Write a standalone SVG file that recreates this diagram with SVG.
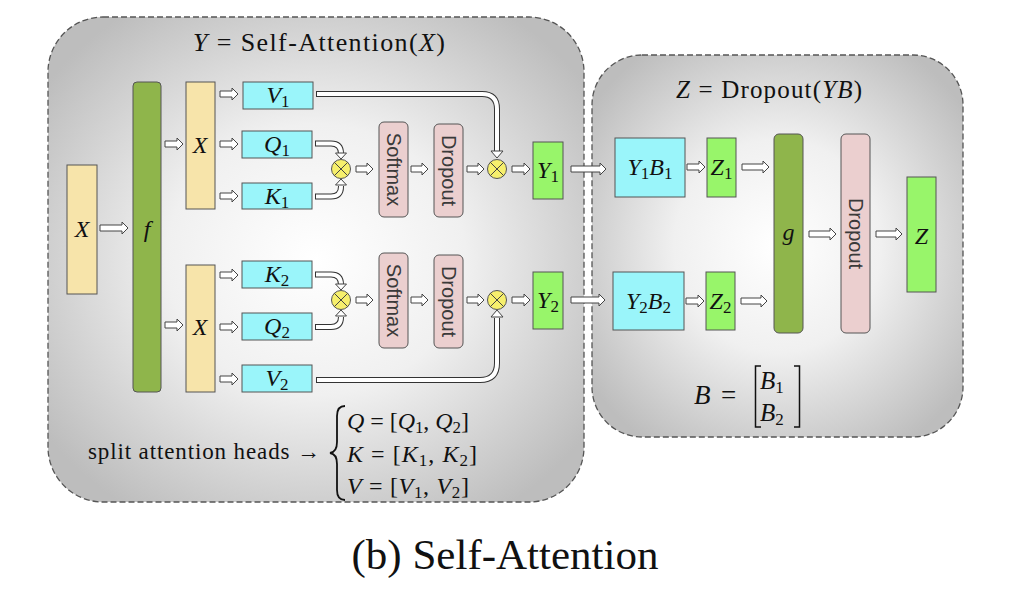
<svg xmlns="http://www.w3.org/2000/svg" width="1028" height="598" viewBox="0 0 1028 598">
  <defs>
    <radialGradient id="panelFill" cx="50%" cy="50%" r="62%">
      <stop offset="0" stop-color="#ffffff"/>
      <stop offset="0.45" stop-color="#f0f0f0"/>
      <stop offset="1" stop-color="#bdbdbd"/>
    </radialGradient>
    <style>
      .panel { fill: url(#panelFill); stroke: #555; stroke-width: 1.3; stroke-dasharray: 6 3; }
      .box { stroke: #555; stroke-width: 1; }
      .inp { fill: #f7e4aa; }
      .fn { fill: #8fb54b; }
      .qkv { fill: #9af5fa; }
      .out { fill: #98f56a; }
      .op { fill: #ebcfcf; }
      .arr { fill: #fff; stroke: #444; stroke-width: 1; stroke-linejoin: miter; }
      .co { fill: none; stroke: #333; stroke-width: 6; }
      .ci { fill: none; stroke: #fff; stroke-width: 4; }
      .mul { fill: #f6ef6c; stroke: #555; stroke-width: 1; }
      .mulx { stroke: #444; stroke-width: 1; }
      .t { font-family: "Liberation Serif", serif; fill: #111; }
      .i { font-style: italic; }
      .lbl { font-size: 24px; text-anchor: middle; }
      .sub { font-size: 17px; font-style: normal; }
      .rot { font-family: "Liberation Sans", Arial, sans-serif; font-size: 20px; fill: #3a3a3a; text-anchor: middle; }
      .ln { fill: none; stroke: #111; }
    </style>
  </defs>

  <!-- panels -->
  <g id="panel-attention">
    <rect class="panel" x="48" y="17" width="536" height="485" rx="55"/>
    <text class="t" x="319" y="51" font-size="26" text-anchor="middle" textLength="252" lengthAdjust="spacing"><tspan class="i">Y</tspan> = Self-Attention(<tspan class="i">X</tspan>)</text>
  </g>
  <g id="panel-dropout">
    <rect class="panel" x="592" y="55" width="371" height="382" rx="50"/>
    <text class="t" x="769" y="98" font-size="25" text-anchor="middle" textLength="186" lengthAdjust="spacing"><tspan class="i">Z</tspan> = Dropout(<tspan class="i">YB</tspan>)</text>
  </g>

  <!-- connectors -->
  <g id="connectors">
    <!-- block arrows -->
    <path class="arr" d="M100,225 H122 V222 L128,228 L122,234 V231 H100 Z"/>
    <path class="arr" d="M165,141 H177 V138 L183,144 L177,150 V147 H165 Z"/>
    <path class="arr" d="M165,322 H177 V319 L183,325 L177,331 V328 H165 Z"/>
    <path class="arr" d="M220,91 H232 V88 L238,94 L232,100 V97 H220 Z"/>
    <path class="arr" d="M220,141 H232 V138 L238,144 L232,150 V147 H220 Z"/>
    <path class="arr" d="M220,193 H232 V190 L238,196 L232,202 V199 H220 Z"/>
    <path class="arr" d="M220,272 H232 V269 L238,275 L232,281 V278 H220 Z"/>
    <path class="arr" d="M220,324 H232 V321 L238,327 L232,333 V330 H220 Z"/>
    <path class="arr" d="M220,376 H232 V373 L238,379 L232,385 V382 H220 Z"/>
    <path class="arr" d="M356,166 H367 V163 L373,169 L367,175 V172 H356 Z"/>
    <path class="arr" d="M411,166 H422 V163 L428,169 L422,175 V172 H411 Z"/>
    <path class="arr" d="M467,166 H478 V163 L484,169 L478,175 V172 H467 Z"/>
    <path class="arr" d="M512,166 H524 V163 L530,169 L524,175 V172 H512 Z"/>
    <path class="arr" d="M356,297 H367 V294 L373,300 L367,306 V303 H356 Z"/>
    <path class="arr" d="M411,297 H422 V294 L428,300 L422,306 V303 H411 Z"/>
    <path class="arr" d="M467,297 H478 V294 L484,300 L478,306 V303 H467 Z"/>
    <path class="arr" d="M512,297 H524 V294 L530,300 L524,306 V303 H512 Z"/>
    <path class="arr" d="M571,166 H600 V163 L606,169 L600,175 V172 H571 Z"/>
    <path class="arr" d="M571,297 H599 V294 L605,300 L599,306 V303 H571 Z"/>
    <path class="arr" d="M687,164 H699 V161 L705,167 L699,173 V170 H687 Z"/>
    <path class="arr" d="M742,164 H763 V161 L769,167 L763,173 V170 H742 Z"/>
    <path class="arr" d="M686,298 H698 V295 L704,301 L698,307 V304 H686 Z"/>
    <path class="arr" d="M741,298 H761 V295 L767,301 L761,307 V304 H741 Z"/>
    <path class="arr" d="M809,231 H830 V228 L836,234 L830,240 V237 H809 Z"/>
    <path class="arr" d="M876,231 H896 V228 L902,234 L896,240 V237 H876 Z"/>

    <!-- curved double connectors into the product nodes -->
    <path class="co" d="M316,94 H482 Q497,94 497,109 V152"/>
    <path class="ci" d="M317,94 H482 Q497,94 497,109 V153"/>
    <polygon class="arr" points="491,151 503,151 497,158"/>

    <path class="co" d="M315,143.5 H331 Q341,143.5 341,153.5 V154"/>
    <path class="ci" d="M316,143.5 H331 Q341,143.5 341,153.5 V155"/>
    <polygon class="arr" points="335.5,153 346.5,153 341,159"/>

    <path class="co" d="M315,196.5 H331 Q341,196.5 341,186.5 V186"/>
    <path class="ci" d="M316,196.5 H331 Q341,196.5 341,186.5 V185"/>
    <polygon class="arr" points="335.5,185 346.5,185 341,179"/>

    <path class="co" d="M315,274.5 H331 Q341,274.5 341,284.5 V285"/>
    <path class="ci" d="M316,274.5 H331 Q341,274.5 341,284.5 V286"/>
    <polygon class="arr" points="335.5,284 346.5,284 341,290"/>

    <path class="co" d="M315,327 H331 Q341,327 341,317 V317"/>
    <path class="ci" d="M316,327 H331 Q341,327 341,317 V316"/>
    <polygon class="arr" points="335.5,316 346.5,316 341,310"/>

    <path class="co" d="M316,380 H480 Q497,380 497,363 V318"/>
    <path class="ci" d="M317,380 H480 Q497,380 497,363 V317"/>
    <polygon class="arr" points="491,317 503,317 497,310"/>
  </g>

  <!-- nodes -->
  <g id="x-in">
    <rect class="box inp" x="67" y="165" width="30" height="129"/>
    <text class="t i lbl" x="82" y="237">X</text>
  </g>
  <g id="f">
    <rect class="box fn" x="133" y="82" width="28" height="310" rx="4"/>
    <text class="t i lbl" x="147" y="237" font-size="26">f</text>
  </g>
  <g id="x-head1">
    <rect class="box inp" x="186" y="82" width="29" height="127"/>
    <text class="t i lbl" x="200" y="153">X</text>
  </g>
  <g id="x-head2">
    <rect class="box inp" x="186" y="265" width="29" height="127"/>
    <text class="t i lbl" x="200" y="335">X</text>
  </g>
  <g id="v1">
    <rect class="box qkv" x="243" y="82" width="70" height="27"/>
    <text class="t i lbl" x="278" y="103">V<tspan class="sub" dy="4">1</tspan></text>
  </g>
  <g id="q1">
    <rect class="box qkv" x="242" y="131" width="70" height="27"/>
    <text class="t i lbl" x="277" y="152">Q<tspan class="sub" dy="4">1</tspan></text>
  </g>
  <g id="k1">
    <rect class="box qkv" x="242" y="183" width="70" height="26"/>
    <text class="t i lbl" x="277" y="204">K<tspan class="sub" dy="4">1</tspan></text>
  </g>
  <g id="k2">
    <rect class="box qkv" x="242" y="261" width="70" height="27"/>
    <text class="t i lbl" x="277" y="282">K<tspan class="sub" dy="4">2</tspan></text>
  </g>
  <g id="q2">
    <rect class="box qkv" x="242" y="313" width="70" height="27"/>
    <text class="t i lbl" x="277" y="334">Q<tspan class="sub" dy="4">2</tspan></text>
  </g>
  <g id="v2">
    <rect class="box qkv" x="242" y="365" width="70" height="27"/>
    <text class="t i lbl" x="277" y="386">V<tspan class="sub" dy="4">2</tspan></text>
  </g>

  <g id="mul-qk1">
    <circle class="mul" cx="341" cy="169" r="9.5"/>
    <path class="mulx" d="M334.3,162.3 L347.7,175.7 M347.7,162.3 L334.3,175.7"/>
  </g>
  <g id="mul-qk2">
    <circle class="mul" cx="341" cy="300" r="9.5"/>
    <path class="mulx" d="M334.3,293.3 L347.7,306.7 M347.7,293.3 L334.3,306.7"/>
  </g>
  <g id="mul-v1">
    <circle class="mul" cx="497" cy="169" r="9.5"/>
    <path class="mulx" d="M490.3,162.3 L503.7,175.7 M503.7,162.3 L490.3,175.7"/>
  </g>
  <g id="mul-v2">
    <circle class="mul" cx="497" cy="300" r="9.5"/>
    <path class="mulx" d="M490.3,293.3 L503.7,306.7 M503.7,293.3 L490.3,306.7"/>
  </g>

  <g id="softmax1">
    <rect class="box op" x="379" y="122" width="29" height="95" rx="5"/>
    <text class="rot" transform="translate(393.5,169.5) rotate(90)" dy="7">Softmax</text>
  </g>
  <g id="dropout1">
    <rect class="box op" x="434" y="124" width="29" height="93" rx="5"/>
    <text class="rot" transform="translate(448.5,170.5) rotate(90)" dy="7">Dropout</text>
  </g>
  <g id="softmax2">
    <rect class="box op" x="379" y="253" width="29" height="95" rx="5"/>
    <text class="rot" transform="translate(393.5,300.5) rotate(90)" dy="7">Softmax</text>
  </g>
  <g id="dropout2">
    <rect class="box op" x="434" y="255" width="29" height="93" rx="5"/>
    <text class="rot" transform="translate(448.5,301.5) rotate(90)" dy="7">Dropout</text>
  </g>

  <g id="y1">
    <rect class="box out" x="533" y="142" width="30" height="57"/>
    <text class="t i lbl" x="548" y="178">Y<tspan class="sub" dy="4">1</tspan></text>
  </g>
  <g id="y2">
    <rect class="box out" x="533" y="272" width="30" height="57"/>
    <text class="t i lbl" x="548" y="308">Y<tspan class="sub" dy="4">2</tspan></text>
  </g>

  <g id="y1b1">
    <rect class="box qkv" x="615" y="138" width="70" height="59"/>
    <text class="t i lbl" x="650" y="175">Y<tspan class="sub" dy="4">1</tspan><tspan dy="-4">B</tspan><tspan class="sub" dy="4">1</tspan></text>
  </g>
  <g id="z1">
    <rect class="box out" x="707" y="138" width="29" height="59"/>
    <text class="t i lbl" x="721.5" y="175">Z<tspan class="sub" dy="4">1</tspan></text>
  </g>
  <g id="y2b2">
    <rect class="box qkv" x="613" y="272" width="71" height="58"/>
    <text class="t i lbl" x="648.5" y="309">Y<tspan class="sub" dy="4">2</tspan><tspan dy="-4">B</tspan><tspan class="sub" dy="4">2</tspan></text>
  </g>
  <g id="z2">
    <rect class="box out" x="706" y="272" width="29" height="58"/>
    <text class="t i lbl" x="720.5" y="309">Z<tspan class="sub" dy="4">2</tspan></text>
  </g>
  <g id="g">
    <rect class="box fn" x="774" y="134" width="29" height="199" rx="5"/>
    <text class="t i lbl" x="788.5" y="240" font-size="28">g</text>
  </g>
  <g id="dropout3">
    <rect class="box op" x="841" y="134" width="29" height="199" rx="5"/>
    <text class="rot" transform="translate(855.5,233.5) rotate(90)" dy="7">Dropout</text>
  </g>
  <g id="z">
    <rect class="box out" x="907" y="177" width="29" height="115"/>
    <text class="t i lbl" x="921.5" y="244" font-size="29">Z</text>
  </g>

  <!-- B as a stacked column -->
  <g id="b-def">
    <text class="t i" x="694" y="404" font-size="27">B</text>
    <text class="t" x="721" y="404" font-size="27">=</text>
    <path class="ln" stroke-width="1.5" d="M761,366 H755.5 V427 H761 M794,366 H799.5 V427 H794"/>
    <text class="t i" x="760" y="389" font-size="25">B<tspan class="sub" font-size="18" dy="4">1</tspan></text>
    <text class="t i" x="760" y="421" font-size="25">B<tspan class="sub" font-size="18" dy="4">2</tspan></text>
  </g>

  <!-- head split definitions -->
  <g id="split-heads">
    <text class="t" x="88" y="459" font-size="23" textLength="232" lengthAdjust="spacing">split attention heads →</text>
    <path class="ln" stroke-width="1.8" d="M345,406 Q337,406 337,416 V442 Q337,452 330,453 Q337,454 337,464 V490 Q337,500 345,500"/>
    <text class="t" x="347" y="429" font-size="24" textLength="122" lengthAdjust="spacing"><tspan class="i">Q</tspan> = [<tspan class="i">Q</tspan><tspan class="sub" dy="4">1</tspan><tspan dy="-4">, </tspan><tspan class="i">Q</tspan><tspan class="sub" dy="4">2</tspan><tspan dy="-4">]</tspan></text>
    <text class="t" x="347" y="462" font-size="24" textLength="130" lengthAdjust="spacing"><tspan class="i">K</tspan> = [<tspan class="i">K</tspan><tspan class="sub" dy="4">1</tspan><tspan dy="-4">, </tspan><tspan class="i">K</tspan><tspan class="sub" dy="4">2</tspan><tspan dy="-4">]</tspan></text>
    <text class="t" x="347" y="494" font-size="24" textLength="122" lengthAdjust="spacing"><tspan class="i">V</tspan> = [<tspan class="i">V</tspan><tspan class="sub" dy="4">1</tspan><tspan dy="-4">, </tspan><tspan class="i">V</tspan><tspan class="sub" dy="4">2</tspan><tspan dy="-4">]</tspan></text>
  </g>

  <!-- caption -->
  <text class="t" x="505" y="569" font-size="43" text-anchor="middle">(b) Self-Attention</text>
</svg>
